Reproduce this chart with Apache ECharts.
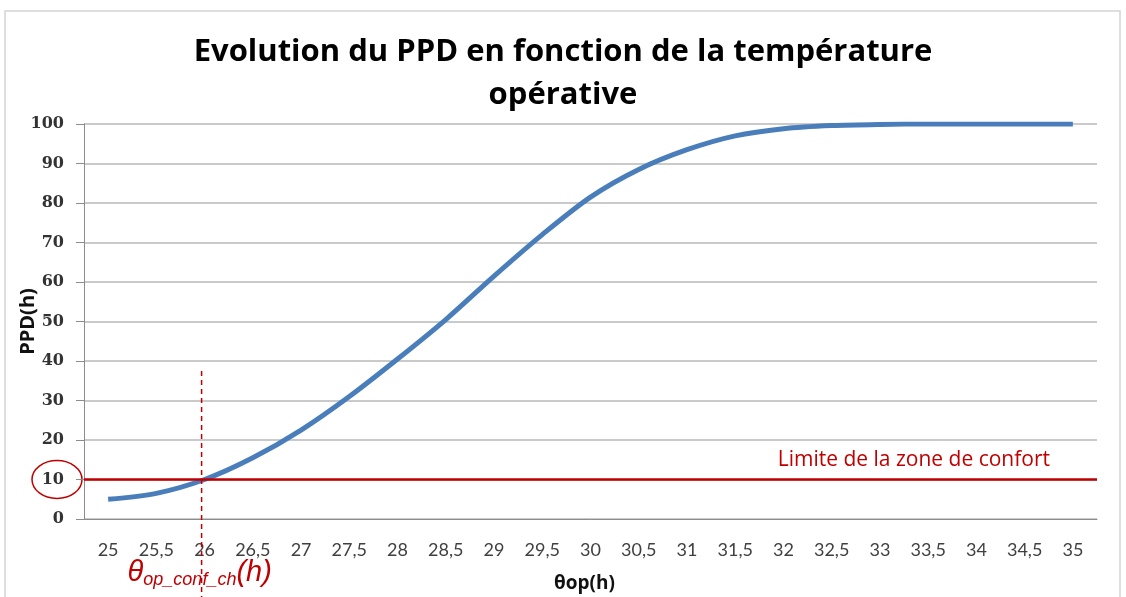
<!DOCTYPE html>
<html>
<head>
<meta charset="utf-8">
<script src="https://cdn.jsdelivr.net/npm/echarts@6/dist/echarts.min.js"></script>
<style>
html,body{margin:0;padding:0;background:#fff;}
#chart{width:1126px;height:597px;}
</style>
</head>
<body>
<div id="chart"></div>
<script>
const categories = ['25','25,5','26','26,5','27','27,5','28','28,5','29','29,5','30','30,5','31','31,5','32','32,5','33','33,5','34','34,5','35'];
const ppd = [5, 6.5, 10, 15.5, 22.5, 31, 40.5, 50.5, 61.5, 72, 81.5, 88.5, 93.5, 97, 98.8, 99.6, 99.9, 100, 100, 100, 100];
const comfortLimit = 10;
const comfortTemp = '26';
const dashTop = 37.5;
const yTicks = [0, 100, 10];

const red = '#c00000';
const chart = echarts.init(document.getElementById('chart'));
chart.setOption({
  animation: false,
  title: {
    text: 'Evolution du PPD en fonction de la température\nopérative',
    left: 'center',
    top: 26,
    textStyle: {fontFamily: 'Open Sans', fontWeight: 'bold', fontSize: 31, color: '#000', lineHeight: 43}
  },
  grid: {left: 84, right: 29, top: 124, bottom: 78, containLabel: false, outerBoundsMode: 'none'},
  xAxis: {
    type: 'category',
    data: categories,
    boundaryGap: true,
    name: 'θop(h)',
    nameLocation: 'middle',
    nameGap: 55,
    nameMoveOverlap: false,
    nameTextStyle: {fontFamily: 'Open Sans', fontWeight: 'bold', fontSize: 19, color: '#111', padding: [0, 12, 0, 0]},
    axisLine: {lineStyle: {color: '#8c8c8c', width: 1}},
    axisTick: {show: false},
    axisLabel: {fontFamily: 'Lato', fontSize: 18, color: '#404040', margin: 22, interval: 0}
  },
  yAxis: {
    type: 'value',
    min: yTicks[0], max: yTicks[1], interval: yTicks[2],
    name: 'PPD(h)',
    nameLocation: 'middle',
    nameGap: 46,
    nameMoveOverlap: false,
    nameTextStyle: {fontFamily: 'Open Sans', fontWeight: 'bold', fontSize: 20, color: '#111'},
    axisLine: {show: true, lineStyle: {color: '#8c8c8c', width: 1}},
    axisTick: {show: true, inside: false, length: 8, lineStyle: {color: '#8c8c8c'}},
    axisLabel: {fontFamily: 'DejaVu Serif', fontWeight: 'bold', fontSize: 16, color: '#333', margin: 20},
    splitLine: {lineStyle: {color: '#b8b8b8', width: 1.5}}
  },
  series: [{
    type: 'line',
    data: ppd,
    smooth: 0.3,
    symbol: 'none',
    lineStyle: {color: '#4a7ebb', width: 5},
    markLine: {
      silent: true,
      symbol: 'none',
      animation: false,
      data: [
        {
          yAxis: comfortLimit,
          lineStyle: {color: red, width: 2.5, type: 'solid'},
          label: {
            show: true,
            position: 'insideEndTop',
            formatter: 'Limite de la zone de confort',
            color: red,
            fontFamily: 'Open Sans',
            fontSize: 21,
            distance: [47, 9]
          }
        }
      ]
    }
  }]
});

function addGraphics() {
  const y10 = chart.convertToPixel({yAxisIndex: 0}, comfortLimit);
  const yTop = chart.convertToPixel({yAxisIndex: 0}, dashTop);
  const xc = chart.convertToPixel({xAxisIndex: 0}, comfortTemp);
  chart.setOption({
    graphic: [
      {type: 'rect', shape: {x: 5, y: 11, width: 1115, height: 600}, style: {fill: 'none', stroke: '#d4d4d4', lineWidth: 1.5}, silent: true},
      {type: 'line', shape: {x1: xc - 3, y1: yTop, x2: xc - 3, y2: 597}, style: {stroke: red, lineWidth: 1.5, lineDash: [5, 4]}, silent: true, z: 10},
      {type: 'ellipse', shape: {cx: 57, cy: y10, rx: 25, ry: 19}, style: {fill: 'none', stroke: red, lineWidth: 1.5}, silent: true},
      {
        type: 'text',
        left: xc - 77,
        top: 558,
        style: {
          text: '{t|θ}{s|op_conf_ch}{t|(h)}',
          rich: {
            t: {fontFamily: 'Liberation Sans', fontStyle: 'italic', fontSize: 29, fill: red},
            s: {fontFamily: 'Liberation Sans', fontStyle: 'italic', fontSize: 18, fill: red, padding: [14, 0, 0, 0]}
          }
        },
        silent: true
      }
    ]
  });
}
addGraphics();
</script>
</body>
</html>
